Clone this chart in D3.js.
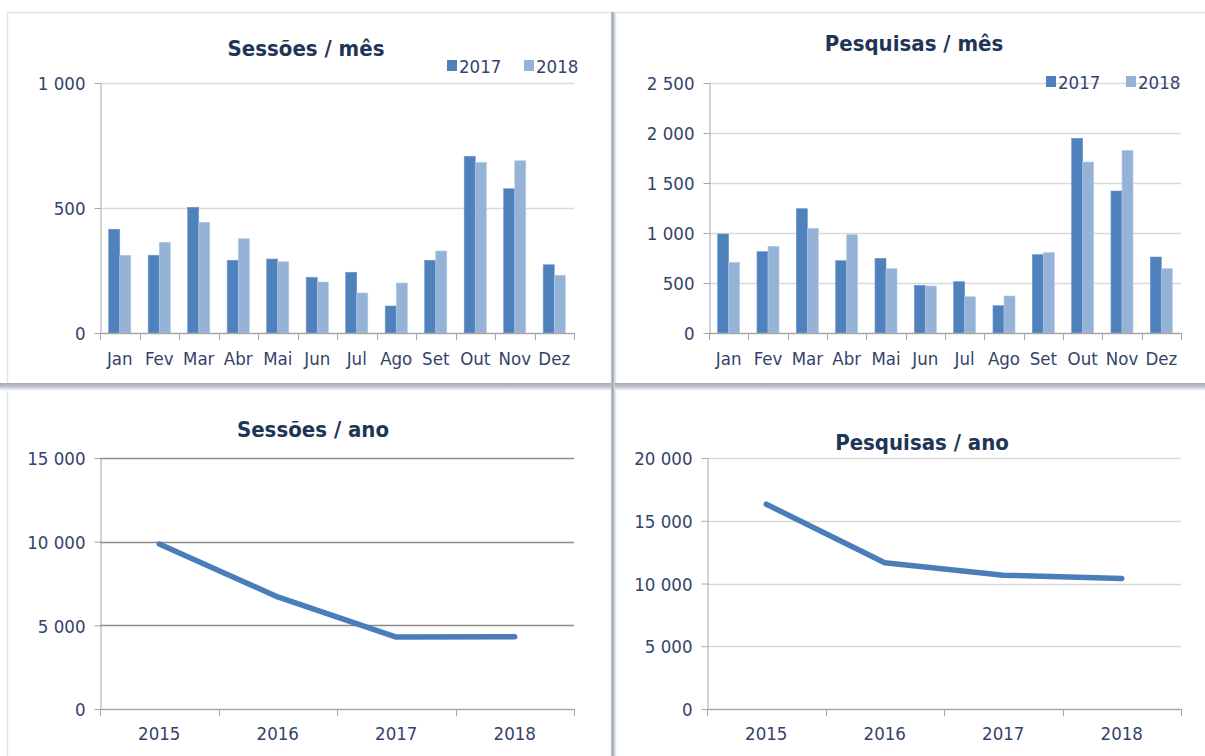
<!DOCTYPE html>
<html>
<head>
<meta charset="utf-8">
<script src="https://cdn.jsdelivr.net/npm/d3@7"></script>
<style>
  body { margin: 0; background: #fff; }
  svg { display: block; }
  .tick text, .lbl { font-family: "Liberation Sans Narrow", "DejaVu Sans Condensed", sans-serif; font-size: 18.5px; fill: #34436a; }
  .title { font-family: "Liberation Sans Narrow", "DejaVu Sans Condensed", sans-serif; font-weight: bold; font-size: 22px; fill: #1f3557; }
</style>
</head>
<body>
<svg id="chart" width="1205" height="756"></svg>
<script>
// data
const months = ["Jan", "Fev", "Mar", "Abr", "Mai", "Jun", "Jul", "Ago", "Set", "Out", "Nov", "Dez"];
const seriesNames = ["2017", "2018"];
const sessoesMes2017 = [415, 311, 503, 291, 296, 223, 243, 108, 291, 707, 577, 273];
const sessoesMes2018 = [311, 363, 443, 377, 285, 204, 160, 200, 328, 683, 689, 231];
const pesquisasMes2017 = [990, 813, 1243, 723, 747, 477, 513, 273, 783, 1947, 1420, 760];
const pesquisasMes2018 = [707, 867, 1047, 983, 643, 470, 363, 370, 803, 1710, 1827, 643];
const anos = ["2015", "2016", "2017", "2018"];
const sessoesAno = [9860, 6700, 4300, 4320];
const pesquisasAno = [16320, 11650, 10660, 10400];

const c2017 = "#4f81bd", c2018 = "#95b3d7";
const loc = d3.formatLocale({ decimal: ",", thousands: " ", grouping: [3], currency: ["", ""] });
const fmt = loc.format(",");

const svg = d3.select("#chart");

// panel frames with the soft shadow on the right/bottom
const defs = svg.append("defs");
const gv = defs.append("linearGradient").attr("id", "shV").attr("x1", 0).attr("x2", 1).attr("y1", 0).attr("y2", 0);
gv.append("stop").attr("offset", "0%").attr("stop-color", "#c9ced6");
gv.append("stop").attr("offset", "45%").attr("stop-color", "#9aa1ab");
gv.append("stop").attr("offset", "100%").attr("stop-color", "#e8eaee");
const gh = defs.append("linearGradient").attr("id", "shH").attr("x1", 0).attr("x2", 0).attr("y1", 0).attr("y2", 1);
gh.append("stop").attr("offset", "0%").attr("stop-color", "#a4abb5");
gh.append("stop").attr("offset", "40%").attr("stop-color", "#b9bec6");
gh.append("stop").attr("offset", "100%").attr("stop-color", "#ffffff");

const panels = [
  { x: 7, y: 12, w: 604, h: 372 },
  { x: 615, y: 12, w: 600, h: 372 },
  { x: 7, y: 389, w: 604, h: 380 },
  { x: 615, y: 389, w: 600, h: 380 }
];
panels.forEach(p => {
  svg.append("rect").attr("x", p.x + 0.5).attr("y", p.y + 0.5).attr("width", p.w).attr("height", p.h)
    .attr("fill", "#fff").attr("stroke", "#dde4f0").attr("stroke-width", 1.5);
});
// shadows
svg.append("rect").attr("x", 0).attr("y", 383).attr("width", 1205).attr("height", 8).attr("fill", "url(#shH)");
svg.append("rect").attr("x", 611).attr("y", 12).attr("width", 4).attr("height", 744).attr("fill", "url(#shV)");

function frameAxes(g, x, y, left, right, bottom, top, yTicks, gridColor) {
  // gridlines
  g.append("g").selectAll("line").data(yTicks.filter(t => t > 0)).join("line")
    .attr("x1", left).attr("x2", right)
    .attr("y1", d => Math.round(y(d)) + 0.5).attr("y2", d => Math.round(y(d)) + 0.5)
    .attr("stroke", gridColor).attr("stroke-width", 1.5);
  // y axis
  const ya = g.append("g").attr("transform", `translate(${left + 0.5},0)`)
    .call(d3.axisLeft(y).tickValues(yTicks).tickFormat(fmt).tickSize(6).tickSizeOuter(0).tickPadding(9));
  ya.select(".domain").attr("stroke", "#a6a6a6");
  ya.selectAll(".tick line").attr("stroke", "#a6a6a6");
  ya.selectAll(".tick text").attr("class", "lbl").attr("dy", "0.36em");
}

function xBoundaries(g, x, bottom, cats) {
  const bw = x.bandwidth();
  const bounds = cats.map(c => x(c)).concat([x(cats[cats.length - 1]) + bw]);
  g.append("line").attr("x1", bounds[0]).attr("x2", bounds[bounds.length - 1])
    .attr("y1", bottom + 0.5).attr("y2", bottom + 0.5).attr("stroke", "#a6a6a6").attr("stroke-width", 1.5);
  g.append("g").selectAll("line").data(bounds).join("line")
    .attr("x1", d => Math.round(d) + 0.5).attr("x2", d => Math.round(d) + 0.5)
    .attr("y1", bottom).attr("y2", bottom + 7).attr("stroke", "#a6a6a6");
}

function barChart(cfg) {
  const g = svg.append("g");
  const x = d3.scaleBand().domain(months).range([cfg.left, cfg.right]).padding(0);
  const y = d3.scaleLinear().domain([0, cfg.max]).range([cfg.bottom, cfg.top]);
  frameAxes(g, x, y, cfg.left, cfg.right, cfg.bottom, cfg.top, cfg.ticks, "#d9d9d9");
  const bw = x.bandwidth() * 0.28;
  const series = [cfg.a, cfg.b];
  const cols = [c2017, c2018];
  series.forEach((vals, si) => {
    g.append("g").selectAll("rect").data(months).join("rect")
      .attr("x", d => x(d) + x.bandwidth() / 2 - bw + si * bw)
      .attr("y", (d, i) => y(vals[i]))
      .attr("width", bw)
      .attr("height", (d, i) => y(0) - y(vals[i]))
      .attr("fill", cols[si])
      .attr("stroke", si === 0 ? "#6f97c9" : "#b4cbe8").attr("stroke-width", 0.6);
  });
  xBoundaries(g, x, cfg.bottom, months);
  g.append("g").selectAll("text").data(months).join("text")
    .attr("class", "lbl").attr("text-anchor", "middle")
    .attr("x", d => x(d) + x.bandwidth() / 2).attr("y", cfg.bottom + 32).text(d => d);
  g.append("text").attr("class", "title").attr("text-anchor", "middle")
    .attr("x", cfg.titleX).attr("y", cfg.titleY).text(cfg.title);
  // legend
  const lg = g.append("g");
  seriesNames.forEach((s, i) => {
    lg.append("rect").attr("x", cfg.legX[i]).attr("y", cfg.legY - 6).attr("width", 10).attr("height", 11).attr("fill", cols[i]);
    lg.append("text").attr("class", "lbl").attr("x", cfg.legX[i] + 12).attr("y", cfg.legY + 7).text(s);
  });
}

function lineChart(cfg) {
  const g = svg.append("g");
  const x = d3.scaleBand().domain(anos).range([cfg.left, cfg.right]).padding(0);
  const y = d3.scaleLinear().domain([0, cfg.max]).range([cfg.bottom, cfg.top]);
  frameAxes(g, x, y, cfg.left, cfg.right, cfg.bottom, cfg.top, cfg.ticks, cfg.grid);
  xBoundaries(g, x, cfg.bottom, anos);
  const line = d3.line().x((d, i) => x(anos[i]) + x.bandwidth() / 2).y(d => y(d));
  g.append("path").attr("d", line(cfg.vals)).attr("fill", "none")
    .attr("stroke", "#4a7ebb").attr("stroke-width", 5.5)
    .attr("stroke-linecap", "round").attr("stroke-linejoin", "round");
  g.append("g").selectAll("text").data(anos).join("text")
    .attr("class", "lbl").attr("text-anchor", "middle")
    .attr("x", d => x(d) + x.bandwidth() / 2).attr("y", cfg.bottom + 31).text(d => d);
  g.append("text").attr("class", "title").attr("text-anchor", "middle")
    .attr("x", cfg.titleX).attr("y", cfg.titleY).text(cfg.title);
}

barChart({ left: 100, right: 574, top: 83, bottom: 333, max: 1000, ticks: [0, 500, 1000],
  a: sessoesMes2017, b: sessoesMes2018, title: "Sessões / mês", titleX: 306, titleY: 56,
  legX: [447, 524], legY: 66 });
barChart({ left: 709, right: 1181, top: 83, bottom: 333, max: 2500, ticks: [0, 500, 1000, 1500, 2000, 2500],
  a: pesquisasMes2017, b: pesquisasMes2018, title: "Pesquisas / mês", titleX: 914, titleY: 51,
  legX: [1046, 1126], legY: 82 });
lineChart({ left: 100, right: 574, top: 458, bottom: 709, max: 15000, ticks: [0, 5000, 10000, 15000],
  vals: sessoesAno, grid: "#8c8c8c", title: "Sessões / ano", titleX: 313, titleY: 437 });
lineChart({ left: 707, right: 1181, top: 458, bottom: 709, max: 20000, ticks: [0, 5000, 10000, 15000, 20000],
  vals: pesquisasAno, grid: "#d9d9d9", title: "Pesquisas / ano", titleX: 922, titleY: 450 });
</script>
</body>
</html>
